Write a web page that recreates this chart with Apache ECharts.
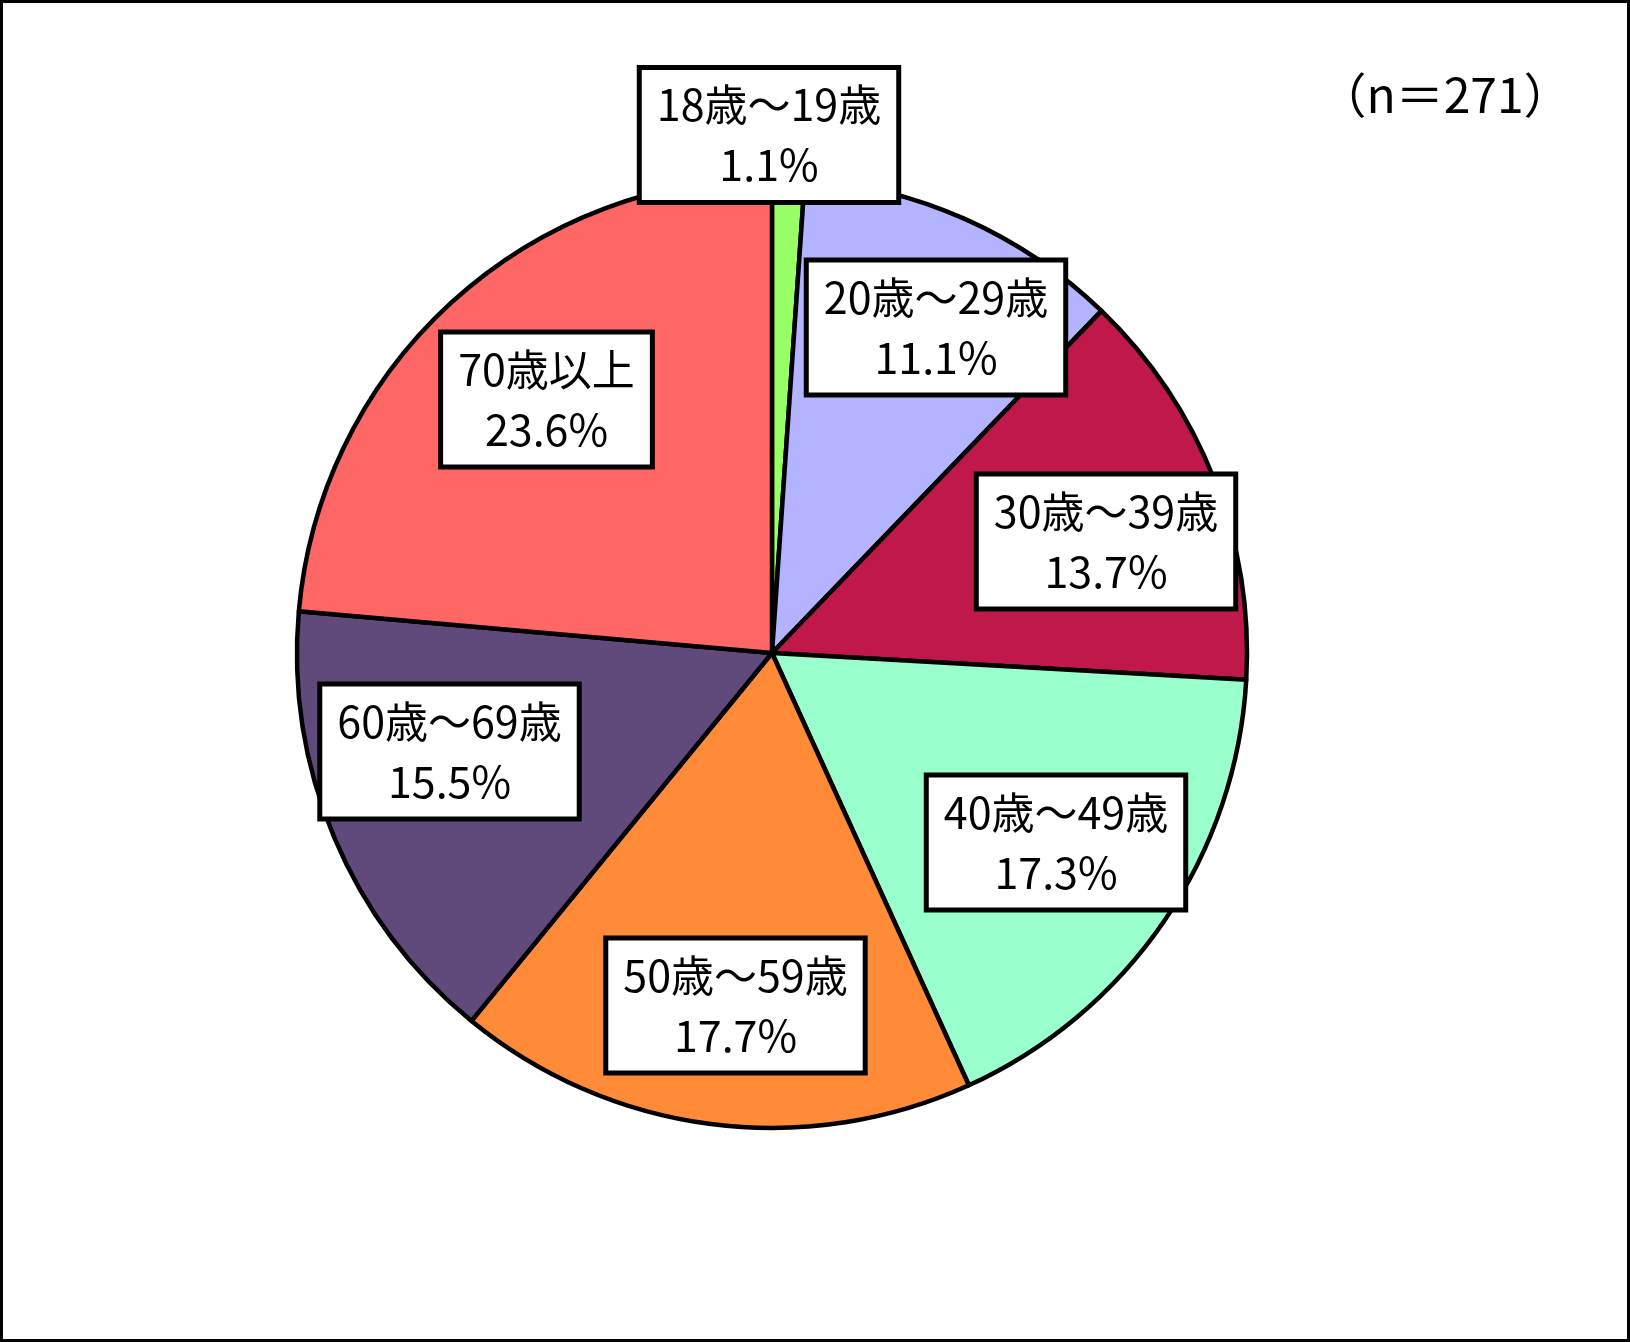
<!DOCTYPE html>
<html>
<head>
<meta charset="utf-8">
<script src="https://cdn.jsdelivr.net/npm/echarts@6/dist/echarts.min.js"></script>
<style>
html,body{margin:0;padding:0;background:#fff;}
#chart{width:1630px;height:1342px;}
</style>
</head>
<body>
<div id="chart"></div>
<script>
const categories = ['18歳～19歳', '20歳～29歳', '30歳～39歳', '40歳～49歳', '50歳～59歳', '60歳～69歳', '70歳以上'];
const percents = [1.1, 11.1, 13.7, 17.3, 17.7, 15.5, 23.6];
const sampleNote = '（n＝271）';

const colors = ['#99FF66', '#B3B3FF', '#C0184A', '#99FFCC', '#FF8B38', '#604A7B', '#FF6666'];
const labelCenters = [[769, 135], [936, 327.5], [1106, 541.5], [1056, 842.5], [735.5, 1005.5], [449.5, 751.5], [546.5, 399.5]];

const FONT = '"Noto Sans CJK JP", "Noto Sans", sans-serif';
const chart = echarts.init(document.getElementById('chart'));

chart.setOption({
  animation: false,
  backgroundColor: '#fff',
  graphic: [
    {type: 'rect', shape: {x: 1.5, y: 1.5, width: 1627, height: 1339}, style: {fill: 'none', stroke: '#000', lineWidth: 3}, z: 100},
    {type: 'text', x: 1445, y: 95, style: {text: sampleNote, fontFamily: FONT, fontSize: 48, fill: '#000', align: 'center', verticalAlign: 'middle'}}
  ],
  series: [{
    type: 'pie',
    center: [772, 653],
    radius: [0, 475],
    startAngle: 90,
    clockwise: true,
    avoidLabelOverlap: false,
    data: categories.map((c, i) => ({name: c, value: percents[i], itemStyle: {color: colors[i]}})),
    itemStyle: {borderColor: '#000', borderWidth: 4.5},
    label: {
      show: true,
      formatter: p => p.name + '\n' + p.value.toFixed(1) + '%',
      fontFamily: FONT,
      fontSize: 43,
      lineHeight: 60,
      color: '#000',
      backgroundColor: '#fff',
      borderColor: '#000',
      borderWidth: 5,
      padding: [5, 15],
      align: 'center'
    },
    labelLine: {show: false},
    labelLayout: function (params) {
      const p = labelCenters[params.dataIndex];
      return {x: p[0], y: p[1], align: 'center', verticalAlign: 'middle'};
    },
    emphasis: {disabled: true}
  }]
});
</script>
</body>
</html>
